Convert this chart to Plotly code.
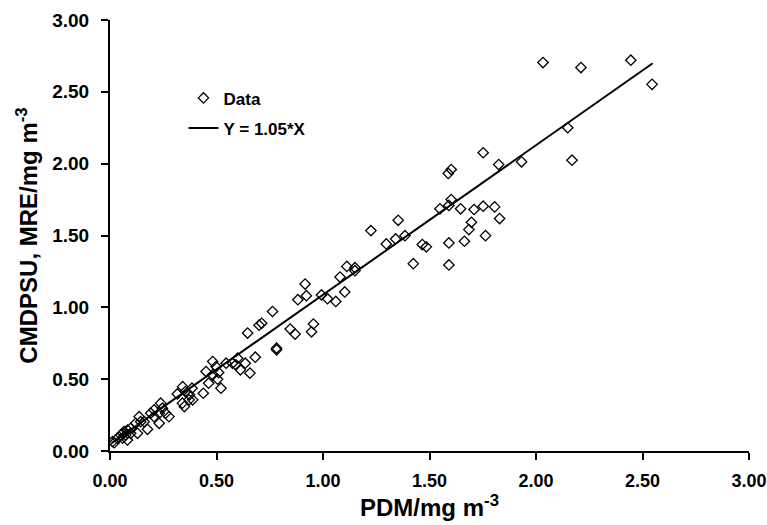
import plotly.graph_objects as go

# Data
pdm = [
    2.033, 2.211, 2.445, 2.545, 2.149, 2.169, 1.932, 1.825,
    1.752, 1.829, 1.763, 1.752, 1.806, 1.588, 1.602,
    1.602, 1.591, 1.549, 1.646, 1.709, 1.353, 1.225, 1.385, 1.341, 1.297,
    1.697, 1.685, 1.664, 1.591, 1.466, 1.485, 1.424, 1.591,
    1.112, 1.150, 1.150, 1.080, 0.916, 0.922, 0.882, 0.993, 1.021, 1.102, 1.060,
    0.763, 0.955, 0.846, 0.869, 0.946, 0.782, 0.782, 0.700, 0.712,
    0.646, 0.682, 0.635, 0.599, 0.575, 0.545, 0.591, 0.612, 0.657,
    0.482, 0.451, 0.498, 0.510, 0.482, 0.505, 0.521, 0.463, 0.438,
    0.385, 0.341, 0.354, 0.373, 0.388, 0.349,
    0.316, 0.371, 0.238, 0.246, 0.207, 0.231, 0.261, 0.277, 0.191, 0.207,
    0.231, 0.176, 0.137, 0.144, 0.160, 0.121, 0.097, 0.082, 0.066, 0.059,
    0.051, 0.074, 0.097, 0.129, 0.035, 0.059, 0.082, 0.020, 0.012, 0.340,
]
cmdpsu = [
    2.704, 2.669, 2.720, 2.552, 2.250, 2.024, 2.013, 1.994,
    2.076, 1.618, 1.499, 1.704, 1.699, 1.932, 1.959,
    1.750, 1.709, 1.686, 1.686, 1.681, 1.606, 1.534, 1.499, 1.476, 1.441,
    1.592, 1.541, 1.460, 1.448, 1.437, 1.421, 1.304, 1.295,
    1.285, 1.276, 1.255, 1.211, 1.162, 1.081, 1.053, 1.086, 1.060, 1.107, 1.041,
    0.971, 0.884, 0.849, 0.814, 0.830, 0.716, 0.704, 0.876, 0.889,
    0.821, 0.653, 0.611, 0.646, 0.611, 0.611, 0.600, 0.565, 0.542,
    0.623, 0.553, 0.588, 0.546, 0.530, 0.500, 0.437, 0.472, 0.402,
    0.437, 0.448, 0.414, 0.391, 0.356, 0.309,
    0.397, 0.356, 0.333, 0.298, 0.286, 0.263, 0.263, 0.239, 0.263, 0.239,
    0.193, 0.151, 0.239, 0.204, 0.204, 0.193, 0.158, 0.146, 0.135, 0.123,
    0.112, 0.112, 0.123, 0.123, 0.089, 0.089, 0.077, 0.058, 0.065, 0.333,
]
fit_x = [0.006, 2.548]
fit_y = [0.053, 2.699]

tick_vals = [0, 0.5, 1.0, 1.5, 2.0, 2.5, 3.0]
tick_text = ["0.00", "0.50", "1.00", "1.50", "2.00", "2.50", "3.00"]

FONT = "Liberation Sans, Arial, sans-serif"

fig = go.Figure()
fig.add_trace(go.Scatter(
    x=pdm, y=cmdpsu, mode="markers", name="Data", legendgroup="a",
    marker=dict(symbol="diamond-open", size=8, color="black",
                line=dict(width=1.3, color="black")),
))
fig.add_trace(go.Scatter(
    x=fit_x, y=fit_y, mode="lines", name="Y = 1.05*X", legendgroup="b",
    line=dict(color="black", width=2),
))

axis_common = dict(
    range=[0, 3], tickvals=tick_vals, ticktext=tick_text,
    showgrid=False, zeroline=False, showline=True, linecolor="black",
    linewidth=2, ticks="outside", ticklen=7, tickwidth=2, tickcolor="black",
    automargin=False,
)

fig.update_layout(
    width=767, height=525,
    margin=dict(l=110, r=18, t=20, b=74),
    plot_bgcolor="white", paper_bgcolor="white",
    font=dict(family=FONT, color="black"),
    xaxis=dict(**axis_common, ticklabelstandoff=5,
               tickfont=dict(family=FONT, size=18, color="black", weight="bold"),
               title=dict(text="<b>PDM/mg m<sup>-3</sup></b>",
                          font=dict(family=FONT, size=24, color="black"),
                          standoff=6)),
    yaxis=dict(**axis_common, ticklabelstandoff=8,
               tickfont=dict(family=FONT, size=19, color="black", weight="bold"),
               title=dict(text="<b>CMDPSU, MRE/mg m<sup>-3</sup></b>",
                          font=dict(family=FONT, size=24, color="black"),
                          standoff=8)),
    showlegend=True,
    legend=dict(x=0.115, y=0.86, xanchor="left", yanchor="top",
                bgcolor="rgba(0,0,0,0)", tracegroupgap=5,
                font=dict(family=FONT, size=17, color="black", weight="bold")),
)

fig.write_html("out.html")
